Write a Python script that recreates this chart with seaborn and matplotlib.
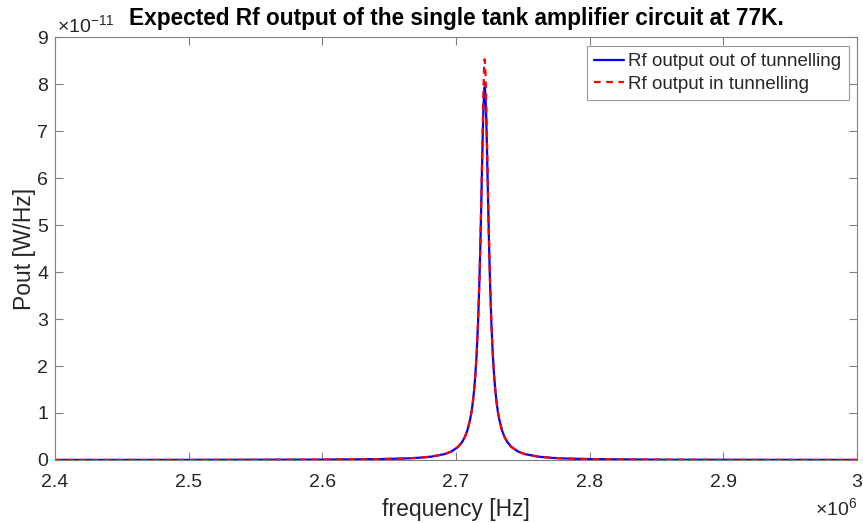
import numpy as np
import pandas as pd
import matplotlib
matplotlib.use("Agg")
import matplotlib.pyplot as plt
import seaborn as sns
from matplotlib.ticker import FuncFormatter, MultipleLocator

# Frequencies, in kHz
freq_khz = [2400, 2500, 2600, 2640, 2661.5, 2671.5, 2681.5, 2691.5, 2696.5, 2701.5,
            2704.5, 2706.5, 2708.5, 2710.5, 2711.5, 2712.5, 2713.5, 2714.5, 2715.5, 2716.5,
            2717.5, 2718, 2718.5, 2719, 2719.5, 2720, 2720.5, 2721, 2721.5,
            2722, 2722.5, 2723, 2723.5, 2724, 2724.5, 2725, 2725.5,
            2726.5, 2727.5, 2728.5, 2729.5, 2730.5, 2731.5, 2732.5,
            2734.5, 2736.5, 2738.5, 2741.5, 2746.5, 2751.5, 2761.5, 2771.5, 2781.5, 2801.5,
            2850, 2900, 3000]

# Pout in units of 1e-11 W/Hz
out_tunnel = [0.0011, 0.0023, 0.0078, 0.0172, 0.0317, 0.0456, 0.071, 0.125, 0.179, 0.277,
              0.378, 0.479, 0.625, 0.85, 1.00, 1.20, 1.46, 1.81, 2.27, 2.91,
              3.77, 4.30, 4.89, 5.54, 6.22, 6.87, 7.43, 7.80, 7.94,
              7.80, 7.43, 6.87, 6.22, 5.54, 4.89, 4.30, 3.77,
              2.91, 2.27, 1.81, 1.46, 1.20, 1.00, 0.85,
              0.625, 0.479, 0.378, 0.277, 0.179, 0.125, 0.071, 0.0456, 0.0317, 0.018,
              0.0069, 0.0036, 0.0015]
in_tunnel = [0.0011, 0.0023, 0.0078, 0.0172, 0.0317, 0.0456, 0.071, 0.125, 0.179, 0.277,
             0.378, 0.479, 0.625, 0.85, 1.00, 1.20, 1.46, 1.81, 2.27, 2.91,
             3.79, 4.33, 4.95, 5.65, 6.40, 7.10, 7.80, 8.30, 8.53,
             8.30, 7.80, 7.10, 6.40, 5.65, 4.95, 4.33, 3.79,
             2.91, 2.27, 1.81, 1.46, 1.20, 1.00, 0.85,
             0.625, 0.479, 0.378, 0.277, 0.179, 0.125, 0.071, 0.0456, 0.0317, 0.018,
             0.0069, 0.0036, 0.0015]

label_out = "Rf output out of tunnelling"
label_in = "Rf output in tunnelling"

freq_hz = [f * 1e3 for f in freq_khz]
df = pd.DataFrame({
    "freq": freq_hz * 2,
    "Pout": [v * 1e-11 for v in out_tunnel] + [v * 1e-11 for v in in_tunnel],
    "series": [label_out] * len(freq_hz) + [label_in] * len(freq_hz),
})

sns.set_style("white")
plt.rcParams["font.family"] = ["Liberation Sans", "DejaVu Sans"]
plt.rcParams["mathtext.fontset"] = "custom"
plt.rcParams["mathtext.rm"] = "Liberation Sans"

fig = plt.figure(figsize=(8.63, 5.23), dpi=100)
ax = fig.add_axes([0.0637, 0.1205, 0.9293, 0.8085])

sns.lineplot(data=df, x="freq", y="Pout", hue="series", style="series",
             palette={label_out: "#0000FF", label_in: "#FF0000"},
             dashes={label_out: "", label_in: (3, 2.5)},
             linewidth=1.6, ax=ax, sort=False, estimator=None)

ax.set_xlim(2.4e6, 3.0e6)
ax.set_ylim(0, 9e-11)
ax.xaxis.set_major_locator(MultipleLocator(0.1e6))
ax.yaxis.set_major_locator(MultipleLocator(1e-11))
ax.xaxis.set_major_formatter(FuncFormatter(lambda v, p: "%g" % round(v / 1e6, 6)))
ax.yaxis.set_major_formatter(FuncFormatter(lambda v, p: "%g" % round(v / 1e-11, 6)))

tc = "#262626"
ax.tick_params(direction="in", length=5.5, width=0.8, color="#808080",
               labelsize=14, labelcolor=tc, top=True, right=True,
               bottom=True, left=True)
ax.tick_params(axis="x", pad=10)
ax.tick_params(axis="y", pad=5)
for s in ax.spines.values():
    s.set_color("#808080")
    s.set_linewidth(0.8)

fig.text(57 / 863, 1 - 33 / 523, r"$\times10^{-11}$", fontsize=14, color=tc,
         ha="left", va="baseline")
fig.text(857 / 863, 1 - 516 / 523, r"$\times10^{6}$", fontsize=14, color=tc,
         ha="right", va="baseline")

ax.set_xlabel("frequency [Hz]", fontsize=16.5, color=tc, labelpad=5)
ax.set_ylabel("Pout [W/Hz]", fontsize=16.5, color=tc, labelpad=1)
ax.set_title("Expected Rf output of the single tank amplifier circuit at 77K.",
             fontsize=16.3, fontweight="bold", color="black", pad=9)

leg = ax.legend(loc="upper right", fontsize=13.5, frameon=True, fancybox=False,
                edgecolor="#808080", handlelength=1.6, handletextpad=0.2,
                borderpad=0.4, labelspacing=0.3, borderaxespad=0.45)
leg.get_frame().set_linewidth(0.8)
for t in leg.get_texts():
    t.set_color(tc)

fig.savefig("out.png", dpi=100)
